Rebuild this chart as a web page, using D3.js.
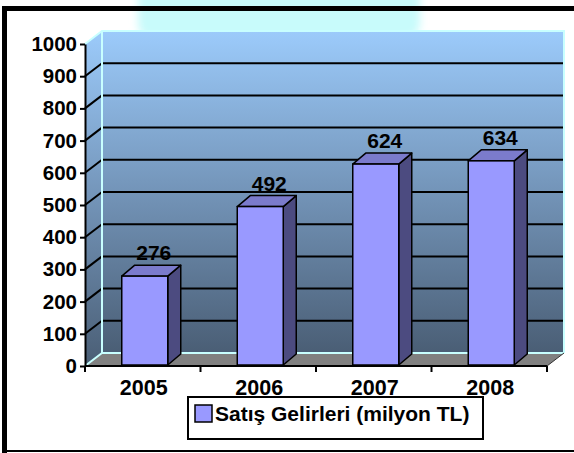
<!DOCTYPE html>
<html><head><meta charset="utf-8">
<script src="https://cdn.jsdelivr.net/npm/d3@7"></script>
<style>html,body{margin:0;padding:0;background:#fff;overflow:hidden}</style>
</head><body>
<svg id="c" width="574" height="453"></svg>
<script>
const categories = ["2005", "2006", "2007", "2008"];
const values = [276, 492, 624, 634];
const yTicks = [0, 100, 200, 300, 400, 500, 600, 700, 800, 900, 1000];
const legendLabel = "Satış Gelirleri (milyon TL)";

(function() {
const svg = d3.select("#c");
const FONT = "'Liberation Sans', Arial, sans-serif";
const DX = 17, DY = 13;      // wall depth
const BDX = 13, BDY = 11;    // bar depth
const x = d3.scaleBand().domain(categories).range([85, 547]);
const y = d3.scaleLinear().domain([0, 1000]).range([366, 44]);
const x0 = 85, x1 = 547;

const defs = svg.append("defs");
const f = defs.append("filter").attr("id", "blur").attr("x", "-20%").attr("y", "-50%").attr("width", "140%").attr("height", "200%");
f.append("feGaussianBlur").attr("stdDeviation", 4);
const g = defs.append("linearGradient").attr("id", "wall").attr("x1", 0).attr("y1", 0).attr("x2", 0).attr("y2", 1);
g.append("stop").attr("offset", 0).attr("stop-color", "#9ccbfb");
g.append("stop").attr("offset", 0.5).attr("stop-color", "#7394b8");
g.append("stop").attr("offset", 1).attr("stop-color", "#4a5e75");

// background glow
svg.append("rect").attr("x", 138).attr("y", -20).attr("width", 282).attr("height", 58)
  .attr("rx", 14).attr("fill", "#c8fbfb").attr("filter", "url(#blur)");

// frame
svg.append("rect").attr("x", 2).attr("y", 6).attr("width", 580).attr("height", 5).attr("fill", "#000");
svg.append("rect").attr("x", 2).attr("y", 6).attr("width", 5).attr("height", 447).attr("fill", "#000");
svg.append("rect").attr("x", 2).attr("y", 450).attr("width", 580).attr("height", 2).attr("fill", "#000");

const yT = y(1000), yB = y(0);
const pts = a => a.map(p => p.join(",")).join(" ");
// side wall
svg.append("polygon").attr("points", pts([[x0, yT], [x0 + DX, yT - DY], [x0 + DX, yB - DY], [x0, yB]]))
  .attr("fill", "url(#wall)");
// back wall
svg.append("rect").attr("x", x0 + DX).attr("y", yT - DY).attr("width", x1 - x0).attr("height", yB - yT)
  .attr("fill", "url(#wall)");
// floor
svg.append("polygon").attr("points", pts([[x0, yB], [x0 + DX, yB - DY], [x1 + DX, yB - DY], [x1, yB]]))
  .attr("fill", "#808080");

// gridlines
const grid = yTicks.filter(v => v > 0 && v < 1000);
svg.selectAll(".gb").data(grid).join("line")
  .attr("x1", x0 + DX).attr("x2", x1 + DX).attr("y1", d => y(d) - DY).attr("y2", d => y(d) - DY)
  .attr("stroke", "#000").attr("stroke-width", 2);
svg.selectAll(".gs").data(grid).join("line")
  .attr("x1", x0).attr("x2", x0 + DX).attr("y1", d => y(d)).attr("y2", d => y(d) - DY)
  .attr("stroke", "#000").attr("stroke-width", 2);

// cyan wall edges
const cy = "#c8ffff";
svg.append("polyline").attr("points", pts([[x0, yT], [x0 + DX, yT - DY], [x1 + DX, yT - DY], [x1 + DX, yB - DY]]))
  .attr("fill", "none").attr("stroke", cy).attr("stroke-width", 2);
svg.append("line").attr("x1", x0 + DX).attr("x2", x0 + DX).attr("y1", yT - DY).attr("y2", yB - DY)
  .attr("stroke", cy).attr("stroke-width", 2);
svg.append("polyline").attr("points", pts([[x0, yB], [x0 + DX, yB - DY], [x1 + DX, yB - DY]]))
  .attr("fill", "none").attr("stroke", cy).attr("stroke-width", 2);
svg.append("line").attr("x1", x1).attr("x2", x1 + DX).attr("y1", yB).attr("y2", yB - DY)
  .attr("stroke", "#333").attr("stroke-width", 1);

// bars
const bw = 46, ox = 2, oy = 1;
const bars = svg.selectAll(".bar").data(categories.map((c, i) => ({c, v: values[i]}))).join("g");
bars.each(function(d) {
  const gg = d3.select(this);
  const l = x(d.c) + x.bandwidth() / 2 + ox - bw / 2, r = l + bw;
  const t = y(d.v) - oy, b = yB - oy;
  gg.append("polygon").attr("points", pts([[r, b], [r + BDX, b - BDY], [r + BDX, t - BDY], [r, t]]))
    .attr("fill", "#4c4b80").attr("stroke", "#000").attr("stroke-width", 1.5).attr("stroke-linejoin", "round");
  gg.append("polygon").attr("points", pts([[l, t], [l + BDX, t - BDY], [r + BDX, t - BDY], [r, t]]))
    .attr("fill", "#7b7bcc").attr("stroke", "#000").attr("stroke-width", 1.5).attr("stroke-linejoin", "round");
  gg.append("rect").attr("x", l).attr("y", t).attr("width", bw).attr("height", b - t)
    .attr("fill", "#9999ff").attr("stroke", "#000").attr("stroke-width", 1.5);
  gg.append("text").attr("x", l + bw / 2 + 9).attr("y", t - 16).attr("text-anchor", "middle")
    .attr("font-family", FONT).attr("font-weight", "bold").attr("font-size", 21).attr("fill", "#000")
    .text(d.v);
});

// y axis
const ya = svg.append("g").attr("transform", `translate(${x0},0)`)
  .call(d3.axisLeft(y).tickValues(yTicks).tickFormat(d3.format("d")).tickSize(5).tickSizeOuter(0).tickPadding(3));
ya.select(".domain").attr("stroke", "#000").attr("stroke-width", 2);
ya.selectAll(".tick line").attr("stroke", "#000").attr("stroke-width", 2);
ya.selectAll(".tick text").attr("font-family", FONT).attr("font-weight", "bold").attr("font-size", 20.5).attr("fill", "#000");

// x axis
const xa = svg.append("g").attr("transform", `translate(1,${yB})`)
  .call(d3.axisBottom(x).tickSize(0).tickPadding(14));
xa.select(".domain").remove();
xa.selectAll(".tick text").attr("font-family", FONT).attr("font-weight", "bold").attr("font-size", 21.5).attr("fill", "#000");
svg.append("line").attr("x1", x0).attr("x2", x1).attr("y1", yB).attr("y2", yB).attr("stroke", "#000").attr("stroke-width", 2);
const bounds = categories.map(c => x(c)).concat([x1]);
svg.selectAll(".xt").data(bounds).join("line")
  .attr("x1", d => d).attr("x2", d => d).attr("y1", yB).attr("y2", yB + 6)
  .attr("stroke", "#000").attr("stroke-width", 2);

// legend
const lg = svg.append("g");
lg.append("rect").attr("x", 188).attr("y", 397).attr("width", 295).attr("height", 42)
  .attr("fill", "#fff").attr("stroke", "#000").attr("stroke-width", 2);
lg.append("rect").attr("x", 195).attr("y", 405).attr("width", 17).attr("height", 17)
  .attr("fill", "#9999ff").attr("stroke", "#000").attr("stroke-width", 1.5);
lg.append("text").attr("x", 215).attr("y", 421).attr("font-family", FONT).attr("font-weight", "bold")
  .attr("font-size", 21).attr("fill", "#000").text(legendLabel);
})();
</script>
</body></html>
